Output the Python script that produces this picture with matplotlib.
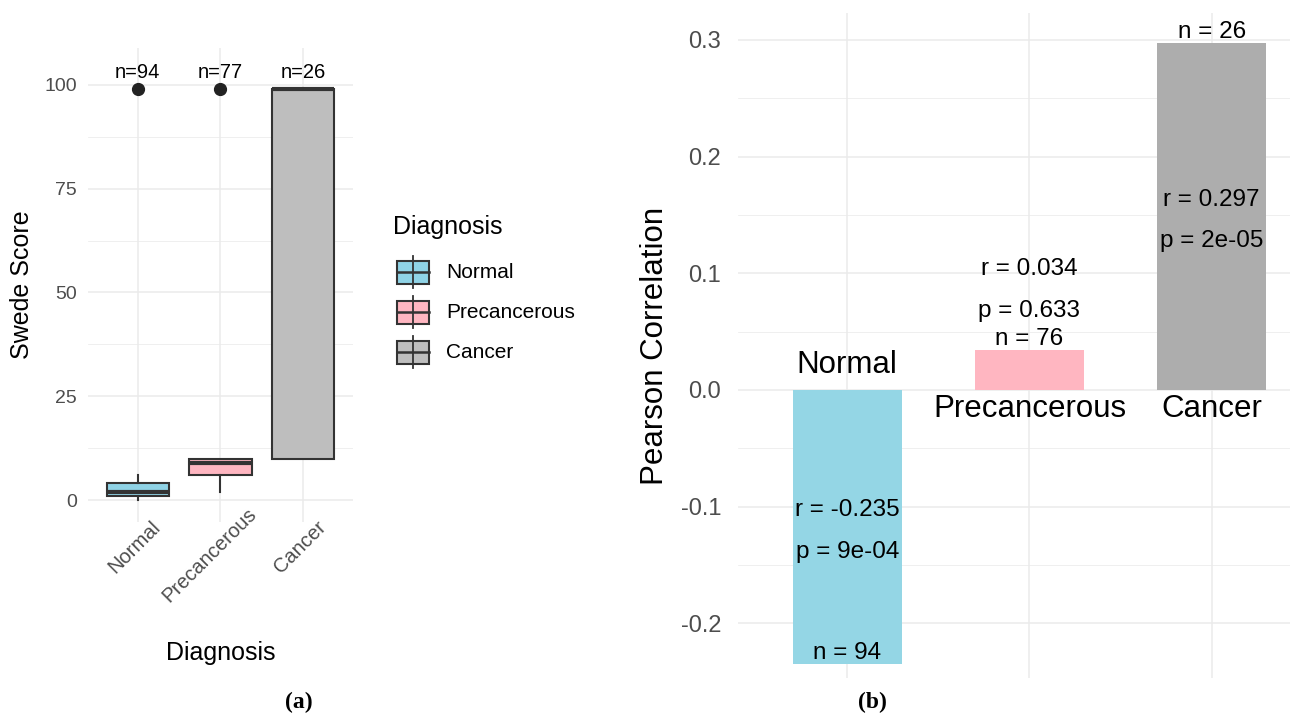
import matplotlib
matplotlib.use("Agg")
import matplotlib.pyplot as plt
from matplotlib.ticker import FixedLocator

plt.rcParams["font.family"] = ["Liberation Sans", "DejaVu Sans"]
plt.rcParams["axes.unicode_minus"] = False

# Data
groups = ["Normal", "Precancerous", "Cancer"]
box_whislo = [0, 2, 10]
box_q1 = [1, 6, 10]
box_median = [2, 9, 99]
box_q3 = [4, 10, 99]
box_whishi = [6, 10, 99]
box_outliers = [[99], [99], []]
box_n = [94, 77, 26]

corr_r = [-0.235, 0.034, 0.297]
corr_p = ["9e-04", "0.633", "2e-05"]
corr_n = [94, 76, 26]

box_fill = ["#8FD3E6", "#FFB6C1", "#BEBEBE"]
bar_fill = ["#94D6E5", "#FFB6C1", "#ADADAD"]
edge = "#333333"
grid_c = "#EBEBEB"
tick_c = "#4D4D4D"

W, H = 1290, 717
fig = plt.figure(figsize=(W / 100, H / 100), dpi=100)
renderer = fig.canvas.get_renderer()


def frac(x0, y0, x1, y1):
    # pixel box (top-left origin) -> figure fraction rect
    return [x0 / W, 1 - y1 / H, (x1 - x0) / W, (y1 - y0) / H]


def minimal(ax):
    for s in ax.spines.values():
        s.set_visible(False)
    ax.tick_params(length=0, which="both")
    ax.grid(True, which="major", color=grid_c, lw=1.1)
    ax.grid(True, which="minor", axis="y", color=grid_c, lw=0.55)
    ax.set_axisbelow(True)


# ---- (a) box plot ----
ax1 = fig.add_axes(frac(88, 47.6, 353, 521.6))
minimal(ax1)
pos = [1, 2, 3]
stats = []
for i in range(3):
    stats.append(dict(med=box_median[i], q1=box_q1[i], q3=box_q3[i],
                      whislo=box_whislo[i], whishi=box_whishi[i],
                      fliers=box_outliers[i]))
art = ax1.bxp(stats, positions=pos, widths=0.75, patch_artist=True,
              showcaps=False,
              boxprops=dict(edgecolor=edge, linewidth=1.5),
              whiskerprops=dict(color=edge, linewidth=1.5),
              medianprops=dict(color=edge, linewidth=3),
              flierprops=dict(marker="o", markerfacecolor="#222222",
                              markeredgecolor="#222222", markersize=8.5))
for patch, c in zip(art["boxes"], box_fill):
    patch.set_facecolor(c)
for x, n in zip(pos, box_n):
    ax1.text(x, 103, f"n={n}", ha="center", va="center", fontsize=14.5)

ax1.set_xlim(0.4, 3.6)
ax1.set_ylim(-5.2, 109)
ax1.set_xticks(pos)
ax1.set_xticklabels([])
ax1.set_yticks([0, 25, 50, 75, 100])
ax1.yaxis.set_minor_locator(FixedLocator([12.5, 37.5, 62.5, 87.5]))
ax1.tick_params(axis="y", labelsize=14, labelcolor=tick_c, pad=8)
ax1.set_ylabel("Swede Score", fontsize=18)
ax1.yaxis.set_label_coords(-0.25, 0.5)
ax1.yaxis.label.set_va("center")
ax1.set_xlabel("Diagnosis", fontsize=18)
ax1.xaxis.set_label_coords(0.5, -0.277)
ax1.xaxis.label.set_va("center")

# rotated category labels, ~70% along the text sits just right of the tick
for x, g in zip(pos, groups):
    t = ax1.annotate(g, xy=(x, 0), xycoords=("data", "axes fraction"),
                     xytext=(0, 0), textcoords="offset pixels",
                     ha="center", va="center", fontsize=14.5, color=tick_c)
    w = t.get_window_extent(renderer).width
    t.set_rotation(45)
    t.set_rotation_mode("anchor")
    t.xyann = (6 - 0.14 * w, -16 - 0.14 * w)

# legend drawn as boxplot keys
lg = fig.add_axes(frac(390, 205, 600, 370))
lg.set_xlim(0, 210)
lg.set_ylim(165, 0)
lg.axis("off")
lg.text(3, 22, "Diagnosis", fontsize=18, va="center", ha="left")
for i, (g, c) in enumerate(zip(groups, box_fill)):
    yc = 67 + 40 * i
    lg.plot([23, 23], [yc - 16, yc + 16], color=edge, lw=1.3)
    lg.add_patch(plt.Rectangle((7, yc - 11.5), 32, 23, facecolor=c,
                               edgecolor=edge, lw=1.5))
    lg.plot([7, 39], [yc, yc], color=edge, lw=1.8)
    lg.text(56, yc, g, fontsize=15, va="center", ha="left")

# ---- (b) correlation bars ----
ax2 = fig.add_axes(frac(738, 13, 1321, 678))
minimal(ax2)
ax2.bar(pos, corr_r, width=0.6, color=bar_fill)
for x, r, p, n, g in zip(pos, corr_r, corr_p, corr_n, groups):
    ly = r / 2 if abs(r) > 0.1 else r + 0.055
    ax2.annotate(f"r = {r:.3f}\np = {p}", (x, ly), xytext=(0, -4),
                 textcoords="offset pixels", ha="center", va="center",
                 fontsize=17.5, linespacing=2.15)
    ax2.text(x, r, f"n = {n}", ha="center", va="bottom", fontsize=17.5)
    if r < 0:
        ax2.annotate(g, (x, 0), xytext=(0, 7), textcoords="offset points",
                     ha="center", va="bottom", fontsize=22.5)
    else:
        ax2.annotate(g, (x, 0), xytext=(0, -3), textcoords="offset points",
                     ha="center", va="top", fontsize=22.5)
ax2.set_xlim(0.4, 3.6)
ax2.set_ylim(-0.2469, 0.3231)
ax2.set_xticks(pos)
ax2.set_xticklabels([])
ax2.set_yticks([-0.2, -0.1, 0.0, 0.1, 0.2, 0.3])
ax2.set_yticklabels(["-0.2", "-0.1", "0.0", "0.1", "0.2", "0.3"])
ax2.yaxis.set_minor_locator(FixedLocator([-0.15, -0.05, 0.05, 0.15, 0.25]))
ax2.tick_params(axis="y", labelsize=17, labelcolor=tick_c, pad=12)
ax2.set_ylabel("Pearson Correlation", fontsize=22.5, labelpad=8)

# panel captions
fig.text(299 / W, 1 - 702 / H, "(a)", fontsize=17, fontweight="bold",
         family="Liberation Serif", ha="center", va="center")
fig.text(872 / W, 1 - 702 / H, "(b)", fontsize=17, fontweight="bold",
         family="Liberation Serif", ha="center", va="center")

fig.savefig("out.png", dpi=100)
